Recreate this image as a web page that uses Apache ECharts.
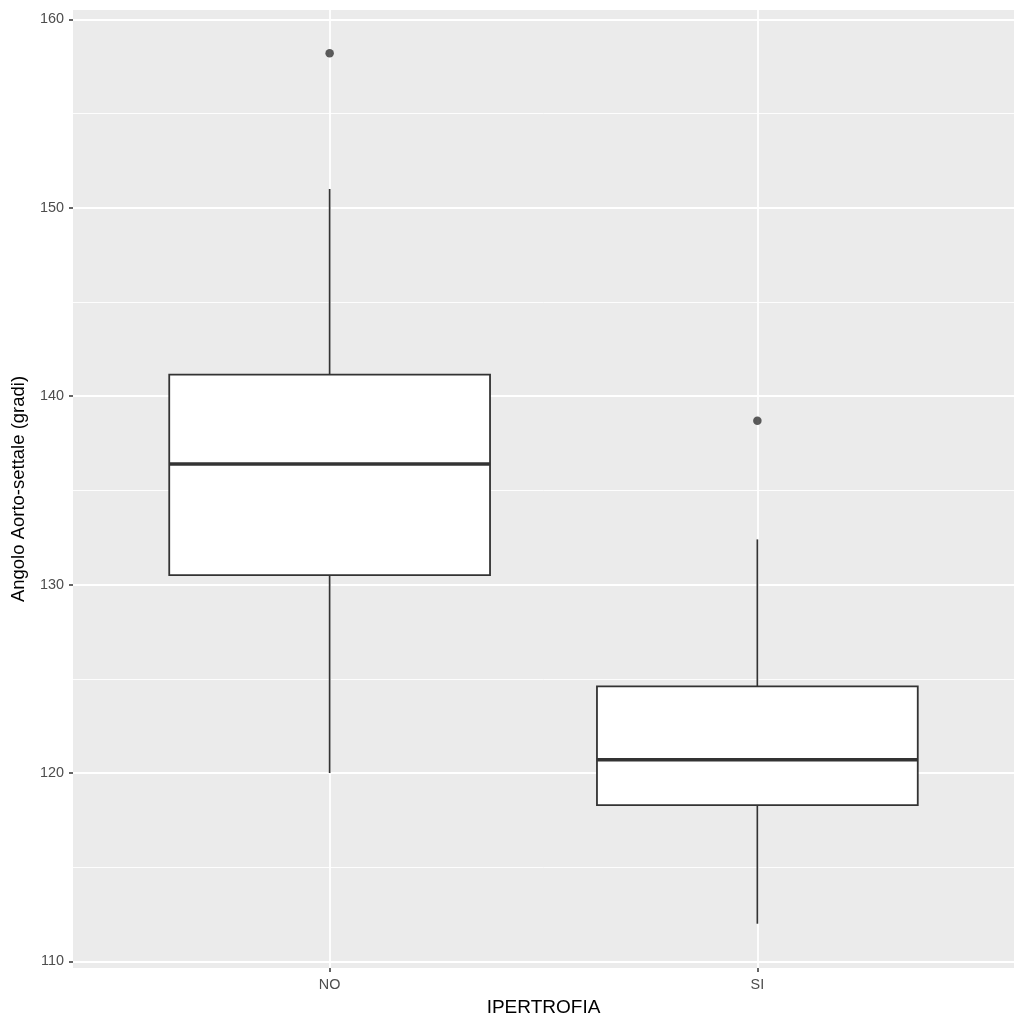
<!DOCTYPE html>
<html><head><meta charset="utf-8">
<script src="https://cdn.jsdelivr.net/npm/echarts@6/dist/echarts.min.js"></script>
<style>html,body{margin:0;padding:0;background:#fff}#c{width:1024px;height:1024px}</style>
</head><body><div id="c"></div>
<script>
const categories = ['NO', 'SI'];
const whiskerLow = [120.0, 112.0];
const q1 = [130.5, 118.3];
const median = [136.4, 120.7];
const q3 = [141.15, 124.6];
const whiskerHigh = [151.0, 132.4];
const outlierCat = [0, 1];
const outlierVal = [158.2, 138.7];
const yTicks = [110, 120, 130, 140, 150, 160];
const yMinor = [115, 125, 135, 145, 155];

const FONT = 'Liberation Sans';
const boxData = categories.map((c, i) => [i + 1, whiskerLow[i], q1[i], median[i], q3[i], whiskerHigh[i]]);
const outData = outlierCat.map((c, i) => [c + 1, outlierVal[i]]);
const catPos = categories.map((c, i) => i + 1);

function renderItem(params, api) {
  const x = api.value(0);
  const lo = api.coord([x, api.value(1)]);
  const b1 = api.coord([x, api.value(2)]);
  const md = api.coord([x, api.value(3)]);
  const b3 = api.coord([x, api.value(4)]);
  const hi = api.coord([x, api.value(5)]);
  const w = api.size([0.75, 0])[0];
  const cx = lo[0];
  return {
    type: 'group', children: [
      { type: 'line', shape: { x1: cx, y1: hi[1], x2: cx, y2: b3[1] }, style: { stroke: '#333', lineWidth: 1.7 } },
      { type: 'line', shape: { x1: cx, y1: b1[1], x2: cx, y2: lo[1] }, style: { stroke: '#333', lineWidth: 1.7 } },
      { type: 'rect', shape: { x: cx - w / 2, y: b3[1], width: w, height: b1[1] - b3[1] }, style: { fill: '#fff', stroke: '#333', lineWidth: 1.8 } },
      { type: 'line', shape: { x1: cx - w / 2, y1: md[1], x2: cx + w / 2, y2: md[1] }, style: { stroke: '#333', lineWidth: 3.6 } }
    ]
  };
}

const chart = echarts.init(document.getElementById('c'));
chart.setOption({
  animation: false,
  backgroundColor: '#fff',
  grid: { left: 73, right: 10, top: 10, bottom: 56, show: true, backgroundColor: '#EBEBEB', borderWidth: 0 },
  xAxis: {
    type: 'value', min: 0.4, max: 2.6,
    name: 'IPERTROFIA', nameLocation: 'middle', nameGap: 30,
    nameTextStyle: { color: '#000', fontSize: 19, fontFamily: FONT },
    axisLine: { show: false },
    splitLine: { show: false },
    axisTick: { show: true, length: 4, customValues: catPos, lineStyle: { color: '#333', width: 1.5 } },
    axisLabel: { customValues: catPos, margin: 10, color: '#4D4D4D', fontSize: 14.4, fontFamily: FONT,
      formatter: v => categories[Math.round(v) - 1] || '' }
  },
  yAxis: {
    type: 'value', min: 109.65, max: 160.5,
    name: 'Angolo Aorto-settale (gradi)', nameLocation: 'middle', nameGap: 45,
    nameTextStyle: { color: '#000', fontSize: 18.5, fontFamily: FONT },
    axisLine: { show: false },
    splitLine: { show: false },
    axisTick: { show: true, length: 4, customValues: yTicks, lineStyle: { color: '#333', width: 1.5 } },
    axisLabel: { customValues: yTicks, margin: 9, color: '#4D4D4D', fontSize: 14.4, fontFamily: FONT }
  },
  series: [
    {
      type: 'line', data: [], z: 1, silent: true,
      markLine: {
        silent: true, symbol: 'none', animation: false, z: 1,
        label: { show: false },
        lineStyle: { color: '#fff', type: 'solid' },
        data: [
          ...yMinor.map(v => ({ yAxis: v, lineStyle: { width: 0.9, color: '#fff', type: 'solid' } })),
          ...yTicks.map(v => ({ yAxis: v, lineStyle: { width: 1.8, color: '#fff', type: 'solid' } })),
          ...catPos.map(v => ({ xAxis: v, lineStyle: { width: 1.8, color: '#fff', type: 'solid' } }))
        ]
      }
    },
    {
      type: 'custom', renderItem: renderItem, data: boxData, z: 3,
      encode: { x: 0, y: [1, 2, 3, 4, 5] }
    },
    {
      type: 'scatter', data: outData, z: 4, symbolSize: 8.5,
      itemStyle: { color: '#333' }
    }
  ]
});
</script>
</body></html>
